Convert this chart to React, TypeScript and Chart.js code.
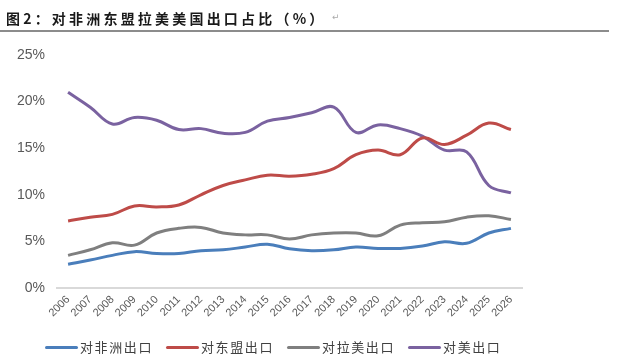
import React, { useEffect, useRef } from "react";
import { Chart, registerables } from "chart.js";

Chart.register(...registerables);

const years = [
  "2006", "2007", "2008", "2009", "2010", "2011", "2012", "2013", "2014", "2015", "2016",
  "2017", "2018", "2019", "2020", "2021", "2022", "2023", "2024", "2025", "2026",
];
const africa = [2.55, 3.0, 3.5, 3.9, 3.7, 3.7, 4.0, 4.1, 4.4, 4.7, 4.2, 4.0, 4.1, 4.4, 4.25, 4.25, 4.5, 4.95, 4.8, 5.9, 6.4];
const asean = [7.2, 7.6, 7.9, 8.8, 8.7, 8.9, 10.0, 11.0, 11.6, 12.1, 12.0, 12.2, 12.8, 14.3, 14.8, 14.3, 16.1, 15.4, 16.4, 17.7, 17.0];
const latam = [3.5, 4.1, 4.85, 4.6, 5.9, 6.4, 6.5, 5.9, 5.7, 5.7, 5.25, 5.7, 5.9, 5.9, 5.6, 6.75, 7.0, 7.1, 7.6, 7.75, 7.35];
const usa = [21.0, 19.4, 17.6, 18.3, 18.0, 17.0, 17.1, 16.6, 16.7, 17.9, 18.3, 18.8, 19.4, 16.7, 17.5, 17.1, 16.3, 14.8, 14.6, 11.0, 10.2];
const seriesNames = ["对非洲出口", "对东盟出口", "对拉美出口", "对美出口"];
const seriesColors = ["#4a7ebb", "#be4b48", "#7f7f7f", "#7a62a0"];
const yTicks = [0, 5, 10, 15, 20, 25];
const title = "图2：对非洲东盟拉美美国出口占比（%）";

export default function App() {
  const canvasRef = useRef<HTMLCanvasElement | null>(null);

  useEffect(() => {
    const canvas = canvasRef.current;
    if (!canvas) return;
    const data = [africa, asean, latam, usa];
    const chart = new Chart(canvas, {
      type: "line",
      data: {
        labels: years,
        datasets: seriesNames.map((name, i) => ({
          label: name,
          data: data[i],
          borderColor: seriesColors[i],
          backgroundColor: seriesColors[i],
          borderWidth: 3,
          pointRadius: 0,
          tension: 0.4,
          fill: false,
        })),
      },
      options: {
        animation: false,
        responsive: false,
        layout: { padding: { left: 0, top: 55, right: 118, bottom: 0 } },
        plugins: {
          legend: { display: false },
          tooltip: { enabled: false },
          title: { display: false },
        },
        scales: {
          x: {
            offset: true,
            grid: { display: false, drawTicks: false },
            border: { display: true, color: "#d9d9d9", width: 2 },
            ticks: {
              color: "#595959",
              font: { family: "'Liberation Sans', Arial, sans-serif", size: 11 },
              minRotation: 45,
              maxRotation: 45,
              padding: 5,
              autoSkip: false,
            },
            afterFit: (scale: any) => {
              scale.height = 74;
            },
          },
          y: {
            min: 0,
            max: 25,
            afterBuildTicks: (scale: any) => {
              scale.ticks = yTicks.map((v) => ({ value: v }));
            },
            grid: { display: false, drawTicks: false },
            border: { display: false },
            ticks: {
              color: "#595959",
              font: { family: "'Liberation Sans', Arial, sans-serif", size: 14 },
              padding: 12,
              callback: (v: any) => `${v}%`,
            },
            afterFit: (scale: any) => {
              scale.width = 57;
            },
          },
        },
      },
    });
    return () => chart.destroy();
  }, []);

  return (
    <div
      style={{
        position: "absolute",
        left: 0,
        top: 0,
        width: 640,
        height: 362,
        background: "#ffffff",
        overflow: "hidden",
      }}
    >
      <canvas
        ref={canvasRef}
        width={640}
        height={362}
        style={{ position: "absolute", left: 0, top: 0, width: 640, height: 362 }}
      />
      <div
        style={{
          position: "absolute",
          left: 6,
          top: 8,
          fontFamily: "'Noto Sans CJK SC', sans-serif",
          fontWeight: 700,
          fontSize: 14,
          lineHeight: "20px",
          letterSpacing: "3.2px",
          color: "#1a1a1a",
          whiteSpace: "nowrap",
        }}
      >
        {title}
      </div>
      <div
        style={{
          position: "absolute",
          left: 332,
          top: 12,
          fontFamily: "'DejaVu Sans', sans-serif",
          fontSize: 9,
          color: "#aaaaaa",
        }}
      >
        ↵
      </div>
      <div
        style={{
          position: "absolute",
          left: 0,
          top: 30,
          width: 609,
          height: 2,
          background: "#8c8c8c",
        }}
      />
      <div
        style={{
          position: "absolute",
          left: 45,
          top: 338,
          display: "flex",
          alignItems: "center",
          whiteSpace: "nowrap",
        }}
      >
        {seriesNames.map((name, i) => (
          <div key={name} style={{ display: "flex", alignItems: "center", marginRight: 13 }}>
            <div style={{ width: 33, height: 3, background: seriesColors[i], borderRadius: 1.5 }} />
            <span
              style={{
                marginLeft: 2,
                fontFamily: "'Noto Sans CJK SC', sans-serif",
                fontSize: 13,
                lineHeight: "18px",
                letterSpacing: "1.6px",
                color: "#404040",
              }}
            >
              {name}
            </span>
          </div>
        ))}
      </div>
    </div>
  );
}
